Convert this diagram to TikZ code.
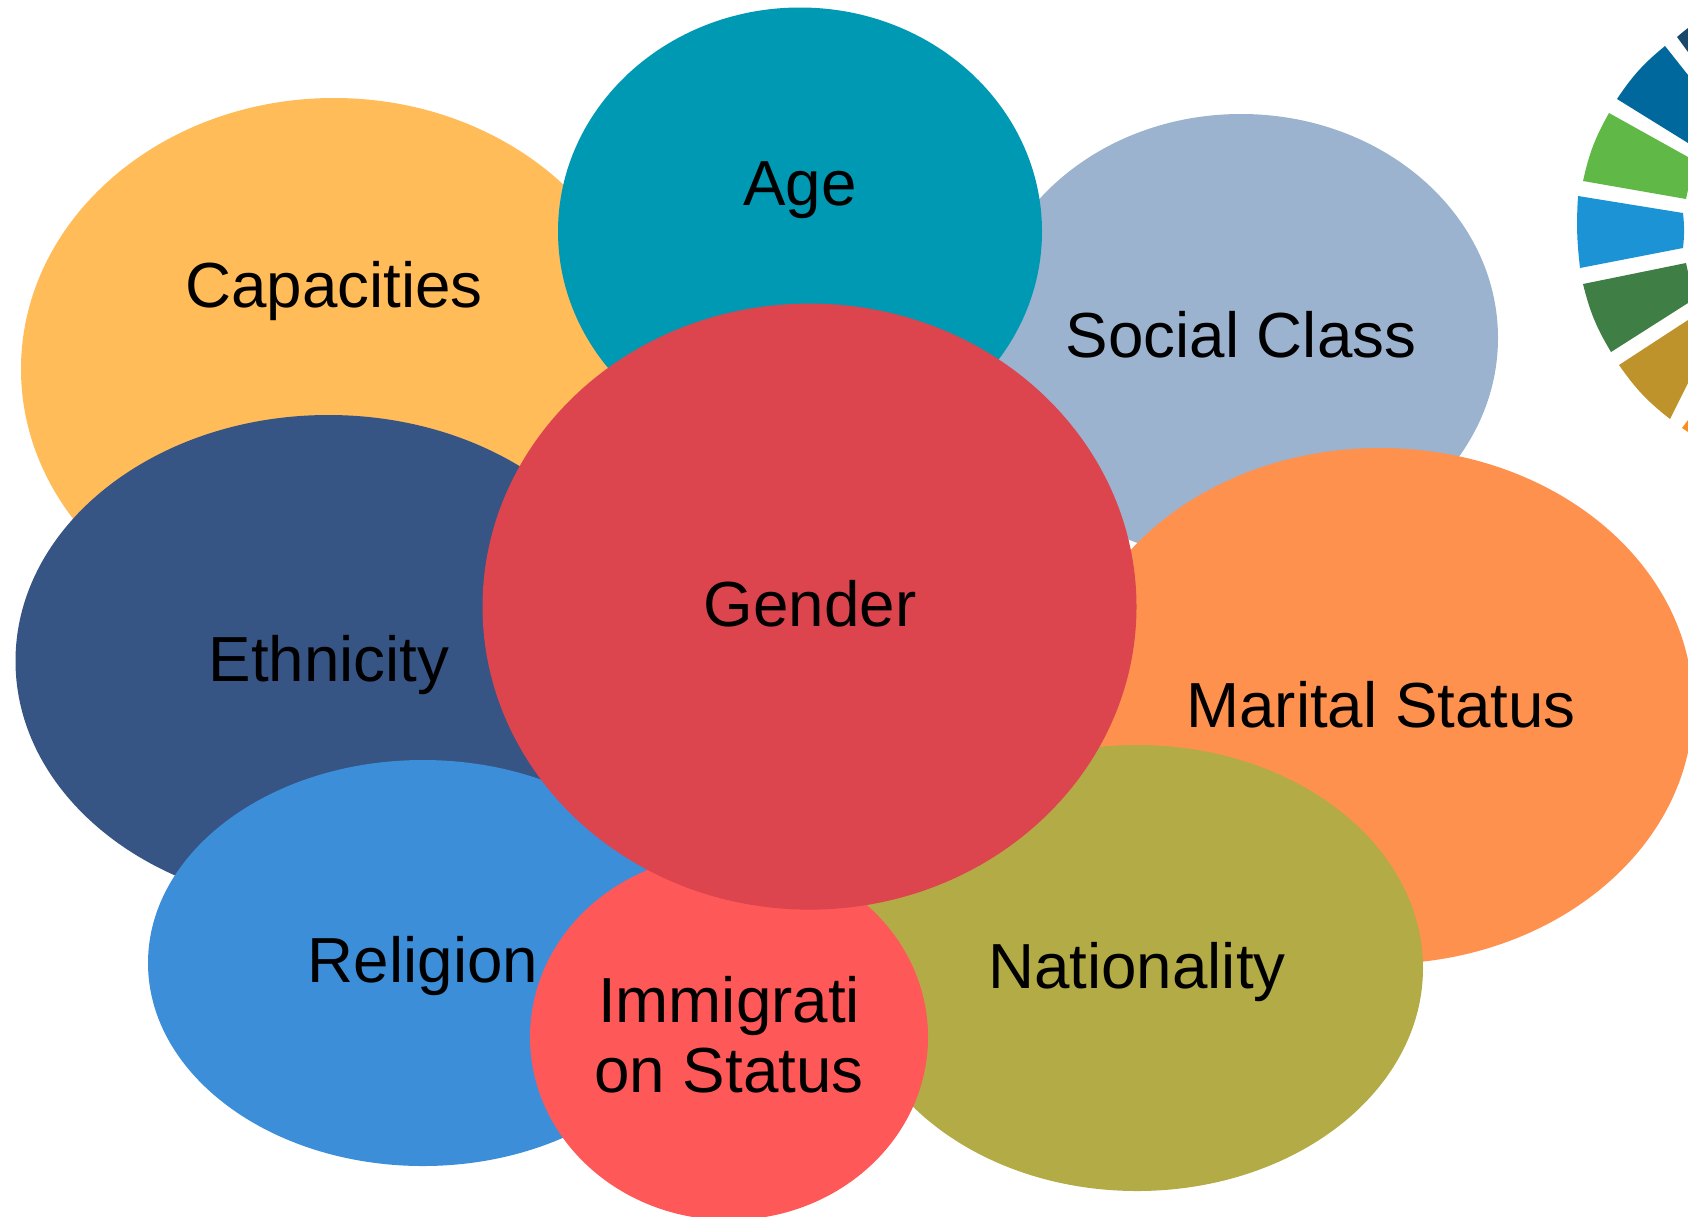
\documentclass[tikz,border=0pt]{standalone}
\usepackage{fontspec}
\setmainfont{Liberation Sans}
\usetikzlibrary{shapes.geometric}
\definecolor{cCap}{HTML}{FFBC58}
\definecolor{cAge}{HTML}{0099B3}
\definecolor{cSoc}{HTML}{9BB3CE}
\definecolor{cGen}{HTML}{DC444E}
\definecolor{cEth}{HTML}{365484}
\definecolor{cMar}{HTML}{FF914F}
\definecolor{cRel}{HTML}{3C8ED8}
\definecolor{cNat}{HTML}{B3AB46}
\definecolor{cImm}{HTML}{FF5858}
\definecolor{wNavy}{HTML}{19486A}
\definecolor{wBlue}{HTML}{00689D}
\definecolor{wLime}{HTML}{60B947}
\definecolor{wSky}{HTML}{1C93D4}
\definecolor{wGreen}{HTML}{3F7E44}
\definecolor{wGold}{HTML}{BF932B}
\definecolor{wOrange}{HTML}{FD8D20}
\tikzset{
  blob/.style={ellipse,inner sep=0pt,outer sep=0pt,draw=none},
  label text/.style={font=\fontsize{63.7}{70}\selectfont,text=black,inner sep=0pt,align=center},
  spoke/.style={bend left=8.5}
}
\begin{document}
\begin{tikzpicture}[x=1pt,y=-1pt]
\useasboundingbox (0,0) rectangle (1688,1216);
\clip (0,0) rectangle (1688,1216);
% wheel
\fill[wNavy] (1677,37) to[bend left=2] (1688,28) -- (1688,52) -- cycle;
\fill[wBlue] (1617,99) to[spoke] (1665,46) -- (1688,75) -- (1688,143) -- cycle;
\fill[wLime] (1583,181) to[spoke] (1609,113) -- (1688,157) -- (1688,190) -- (1686,199) -- cycle;
\fill[wSky] (1580,268) to[bend left=5] (1578,196) -- (1683,213) to[bend left=6] (1683,248) -- cycle;
\fill[wGreen] (1611,352) to[spoke] (1583,284) -- (1686,263) -- (1688,272) -- (1688,303) -- cycle;
\fill[wGold] (1670,419) to[spoke] (1619,365) -- (1688,320) -- (1688,383) -- cycle;
\fill[wOrange] (1688,432) -- (1682,428) -- (1688,420) -- cycle;
% ellipses, back to front
\node[blob,fill=cCap,minimum width=626pt,minimum height=542pt] (capE) at (334,369) {};
\node[blob,fill=cSoc,minimum width=514pt,minimum height=448pt] (socE) at (1241,338) {};
\node[blob,fill=cAge,minimum width=484pt,minimum height=448pt] (ageE) at (800,231.5) {};
\node[blob,fill=cEth,minimum width=626pt,minimum height=492pt] (ethE) at (328.5,661) {};
\node[blob,fill=cMar,minimum width=626pt,minimum height=516pt] (marE) at (1380,706) {};
\node[blob,fill=cRel,minimum width=550pt,minimum height=406pt] (relE) at (423,963) {};
\node[blob,fill=cNat,minimum width=572pt,minimum height=446pt] (natE) at (1137,968) {};
\node[blob,fill=cImm,minimum width=398pt,minimum height=366pt] (immE) at (729,1037) {};
\node[blob,fill=cGen,minimum width=654pt,minimum height=606pt] (genE) at (809.5,606.6) {};
% labels
\node[label text] (capL) at (334,291) {Capacities};
\node[label text] (ageL) at (800,190) {Age};
\node[label text] (socL) at (1241,335) {Social Class};
\node[label text] (genL) at (810,604) {Gender};
\node[label text] (ethL) at (329,665) {Ethnicity};
\node[label text] (marL) at (1381,705) {Marital Status};
\node[label text] (relL) at (423,966) {Religion};
\node[label text] (natL) at (1137,972) {Nationality};
\node[label text] (immL) at (729,1035) {Immigrati\\on Status};
\end{tikzpicture}
\end{document}
